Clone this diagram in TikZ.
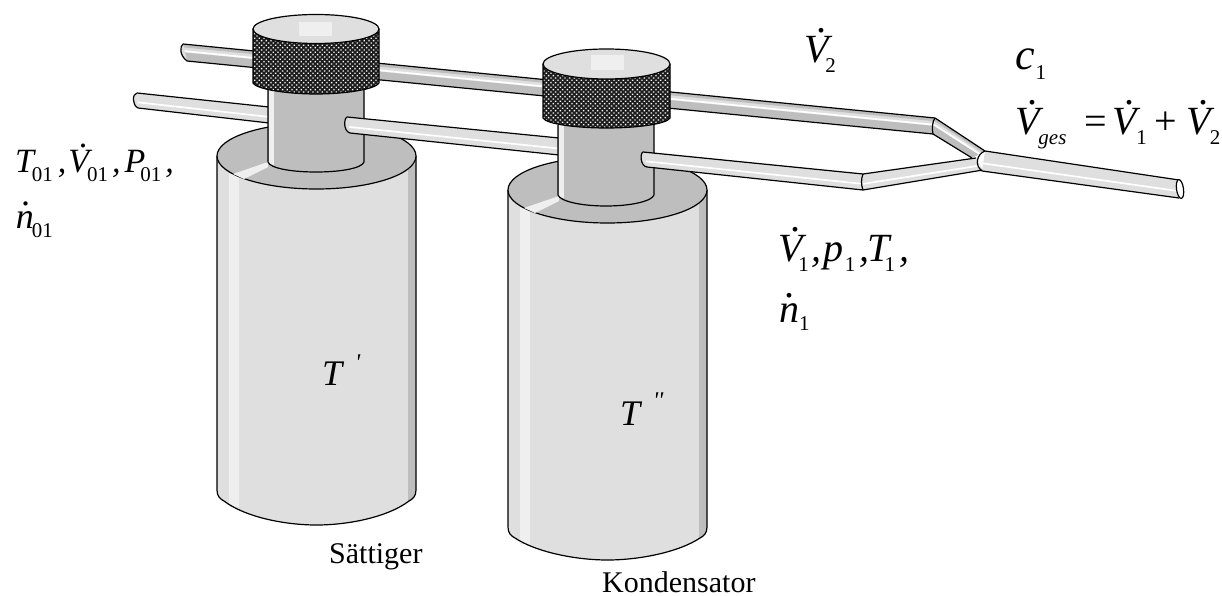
\documentclass[tikz,border=0pt]{standalone}
\usepackage{fontspec}
\setmainfont{Liberation Serif}
\newfontfamily\plainf{Liberation Serif}
\usetikzlibrary{calc,patterns.meta}
\definecolor{lightg}{HTML}{DFDFDF}
\definecolor{darkg}{HTML}{BEBEBE}
\definecolor{hilite}{HTML}{EFEFEF}
\definecolor{knurl}{HTML}{1C1C1C}
\newcommand\fs[1]{\fontsize{#1}{#1}\selectfont}
\newcommand\dV{\rlap{\kern.31em\raisebox{.75em}{\upshape.}}V}
\newcommand\dn{\rlap{\kern.14em\raisebox{.62em}{\upshape.}}n}
\newcommand\sbs[2][9pt]{\raisebox{-#1}{\upshape\fs{21}#2}}
% tube segment: upper-left, lower-left, upper-right, lower-right
\newcommand\tubelight[4]{%
  \fill[lightg] (#1)--(#3)--(#4)--(#2)--cycle;
  \draw[white,line width=1.7] ($(#1)!.62!(#2)$)--($(#3)!.62!(#4)$);
  \draw[edge] (#1)--(#3) (#2)--(#4);}
\newcommand\tubedark[4]{%
  \fill[lightg] (#1)--(#3)--(#4)--(#2)--cycle;
  \fill[darkg] (#1)--(#3)--($(#3)!.2!(#4)$)--($(#1)!.2!(#2)$)--cycle;
  \fill[darkg] ($(#1)!.5!(#2)$)--($(#3)!.5!(#4)$)--(#4)--(#2)--cycle;
  \draw[white,line width=1.7] ($(#1)!.42!(#2)$)--($(#3)!.42!(#4)$);
  \draw[edge] (#1)--(#3) (#2)--(#4);}
% cylinder vessel: #1 left, #2 right, #3 top centre y, #4 y of straight end, #5 bottom y
\newcommand\vessel[5]{%
  \pgfmathsetmacro\cx{(#1+#2)/2}
  \pgfmathsetmacro\hl{#1+12}\pgfmathsetmacro\hr{#1+22}\pgfmathsetmacro\dk{#2-8}
  \path[fill=lightg] (#1,#3)--(#1,#4)
     .. controls (#1,#4+6) and (#1+3,#4+9) .. (#1+7,#4+11)
     .. controls (#1+28,#5-8) and (\cx-32,#5) .. (\cx,#5)
     .. controls (\cx+32,#5) and (#2-28,#5-8) .. (#2-7,#4+11)
     .. controls (#2-3,#4+9) and (#2,#4+6) .. (#2,#4)--(#2,#3)--cycle;
  \fill[hilite] (\hl,#3+10) rectangle (\hr,#4+17);
  \fill[darkg] (\dk,#3+10)--(#2,#3+8)--(#2,#4)..controls (#2,#4+6) and (#2-3,#4+9) .. (#2-7,#4+11)--(\dk,#4+12)--cycle;
  \draw[edge] (#1,#3)--(#1,#4)
     .. controls (#1,#4+6) and (#1+3,#4+9) .. (#1+7,#4+11)
     .. controls (#1+28,#5-8) and (\cx-32,#5) .. (\cx,#5)
     .. controls (\cx+32,#5) and (#2-28,#5-8) .. (#2-7,#4+11)
     .. controls (#2-3,#4+9) and (#2,#4+6) .. (#2,#4)--(#2,#3);
  \draw[edge,fill=darkg] (\cx,#3) ellipse [x radius=(#2-#1)/2, y radius=33];
  \fill[hilite] (#1+16,#3+18)--(#1+51,#3+6)--(#1+51,#3+11)--(#1+27,#3+23)--cycle;}
% neck: #1 left, #2 right, #3 top, #4 straight end, #5 bottom
\newcommand\neck[5]{%
  \pgfmathsetmacro\cx{(#1+#2)/2}
  \fill[darkg] (#1,#3)--(#1,#4) .. controls (#1+2,#4+6) and (\cx-26,#5) .. (\cx,#5)
     .. controls (\cx+26,#5) and (#2-2,#4+6) .. (#2,#4)--(#2,#3)--cycle;
  \fill[hilite] (#1+1,#3) rectangle (#1+6,#4+3);
  \draw[edge] (#1,#3)--(#1,#4) .. controls (#1+2,#4+6) and (\cx-26,#5) .. (\cx,#5)
     .. controls (\cx+26,#5) and (#2-2,#4+6) .. (#2,#4)--(#2,#3);}
% cap: #1 left, #2 right, #3 top centre y, #4 ry, #5 straight end, #6 bottom
\newcommand\capknob[6]{%
  \pgfmathsetmacro\cx{(#1+#2)/2}
  \path[fill=knurl] (#1,#3)--(#1,#5) .. controls (#1+3,#5+6) and (\cx-30,#6) .. (\cx,#6)
     .. controls (\cx+30,#6) and (#2-3,#5+6) .. (#2,#5)--(#2,#3)--cycle;
  \path[pattern={Dots[distance=3.3pt,radius=.95pt,angle=45,xshift=.3pt]},pattern color=white]
     (#1,#3)--(#1,#5) .. controls (#1+3,#5+6) and (\cx-30,#6) .. (\cx,#6)
     .. controls (\cx+30,#6) and (#2-3,#5+6) .. (#2,#5)--(#2,#3)--cycle;
  \draw[edge] (#1,#3)--(#1,#5) .. controls (#1+3,#5+6) and (\cx-30,#6) .. (\cx,#6)
     .. controls (\cx+30,#6) and (#2-3,#5+6) .. (#2,#5)--(#2,#3);
  \draw[edge,fill=lightg] (\cx,#3) ellipse [x radius=(#2-#1)/2, y radius=#4];}
\tikzset{edge/.style={black,line width=1.2,line join=round},
  lab/.style={anchor=base west,inner sep=0pt,outer sep=0pt,font=\itshape\fs{40}}}
\begin{document}
\begin{tikzpicture}[x=1pt,y=-1pt]
\useasboundingbox (0,0) rectangle (1222,596);
% corner points of the tubes
\coordinate (bu0) at (183,44); \coordinate (bl0) at (187,61);
\coordinate (bu1) at (935,118); \coordinate (bl1) at (933,134);
\coordinate (du1) at (985,151); \coordinate (dl1) at (972,158);
\coordinate (fu0) at (137,93); \coordinate (fl0) at (138,108);
\coordinate (fu1) at (269,107); \coordinate (fl1) at (269,123);
\coordinate (mu0) at (347,117); \coordinate (ml0) at (350,133);
\coordinate (mu1) at (559,138); \coordinate (ml1) at (559,155);
\coordinate (ru0) at (643,152); \coordinate (rl0) at (647,167);
\coordinate (ru1) at (863,174); \coordinate (rl1) at (863,190);
\coordinate (ju1) at (976,158); \coordinate (jl1) at (983,170);
\coordinate (ou0) at (985,151); \coordinate (ol0) at (982,171);
\coordinate (ou1) at (1179,180); \coordinate (ol1) at (1179,198);
% back tube
\tubedark{bu0}{bl0}{bu1}{bl1}
\draw[edge,fill=lightg] (bu0) .. controls (180,46) and (179,55) .. (bl0);
% front tube, first part
\tubelight{fu0}{fl0}{fu1}{fl1}
\draw[edge,fill=lightg] (fu0) .. controls (132,94) and (132,105) .. (fl0);
% saturator
\vessel{217}{416}{156}{490}{525}
\neck{268}{364}{90}{162}{172}
\capknob{253}{379}{29}{14.5}{83}{94}
\fill[hilite] (299,22) rectangle (332,36);
% front tube, middle part
\tubelight{mu0}{ml0}{mu1}{ml1}
\draw[edge,fill=lightg] (mu0) .. controls (344,118) and (343,131) .. (ml0);
% condenser
\vessel{508}{707}{190}{527}{560}
\neck{558}{654}{125}{195}{206}
\capknob{543}{670}{64}{15}{118}{128}
\fill[hilite] (591,55) rectangle (624,70);
% front tube, last part
\tubelight{ru0}{rl0}{ru1}{rl1}
\draw[edge,fill=lightg] (ru0) .. controls (640,153) and (640,166) .. (rl0);
\tubelight{ru1}{rl1}{ju1}{jl1}
\draw[edge] (ru1) .. controls (861,179) and (861,185) .. (rl1);
% diagonal and outlet
\tubedark{bu1}{bl1}{du1}{dl1}
\draw[edge] (bu1) .. controls (932,122) and (932,129) .. (bl1);
\tubelight{ou0}{ol0}{ou1}{ol1}
\draw[edge] (ou0) .. controls (977,154) and (974,165) .. (ol0);
\draw[edge,fill=white,rotate around={8:(1180,189)}] (1180,189) ellipse [x radius=3.5, y radius=9.5];
% labels
\node[lab] (l1) at (15,173) {\fs{34}T\kern-2pt\sbs{01}\kern5pt,\kern2pt\dV\kern-2pt\sbs{01}\kern4pt,\kern4pt P\kern-5pt\sbs{01}\kern4pt,};
\node[lab] (l2) at (16,228) {\fs{36}\dn\kern-2pt\sbs{01}};
\node[lab] (v2) at (804,63) {\dV\kern-3pt\sbs[10pt]{2}};
\node[lab] (c1) at (1015,70) {\fs{44}c\kern1pt\sbs[10pt]{1}};
\node[lab] (vg) at (1015,135) {\dV\kern-1pt\raisebox{-10pt}{\fs{21}ges}\kern18pt\upshape=\kern5pt\itshape\dV\sbs[10pt]{1}\kern8pt\upshape+\kern9pt\itshape\dV\kern-1pt\sbs[10pt]{2}};
\node[lab] (v1) at (778,261) {\dV\kern-4pt\sbs[10pt]{1}\kern3pt,\kern2pt p\kern1pt\sbs[10pt]{1}\kern4pt,\kern-2pt T\kern-5pt\sbs[10pt]{1}\kern4pt,};
\node[lab] (n1) at (779,322) {\dn\kern0pt\sbs[8pt]{1}};
\node[lab] (tp) at (322,385) {\fs{36}T\kern13pt\raisebox{15pt}{\plainf\fs{24}'}};
\node[lab] (tpp) at (620,425) {\fs{36}T\kern13pt\raisebox{17pt}{\plainf\fs{24}''}};
\node[anchor=base west,inner sep=0pt,font=\fs{30}] (sat) at (329,563) {Sättiger};
\node[anchor=base west,inner sep=0pt,font=\fs{30}] (kon) at (602,592) {Kondensator};
\end{tikzpicture}
\end{document}
